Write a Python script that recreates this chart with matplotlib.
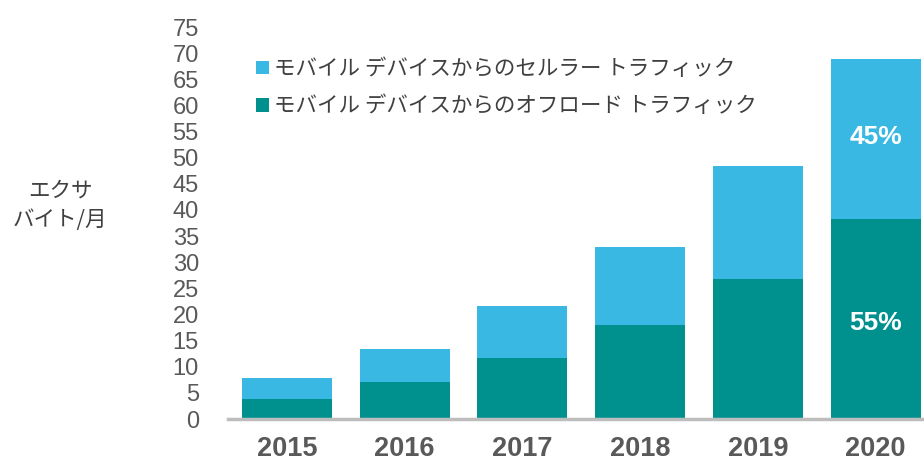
import matplotlib
matplotlib.use("Agg")
import matplotlib.pyplot as plt
import numpy as np

years = ["2015", "2016", "2017", "2018", "2019", "2020"]
offload = [3.9, 7.0, 11.7, 17.9, 26.8, 38.3]
cellular = [3.9, 6.3, 9.9, 15.0, 21.7, 30.6]
share_labels = {"cellular": "45%", "offload": "55%"}
yticks = list(range(0, 80, 5))
label_cell = "モバイル デバイスからのセルラー トラフィック"
label_off = "モバイル デバイスからのオフロード トラフィック"
ylabel = "エクサ\nバイト/月"

c_light = "#38b8e2"
c_dark = "#00918f"
gray_txt = "#595959"

plt.rcParams['font.family'] = ['Liberation Sans', 'Noto Sans CJK JP', 'DejaVu Sans']

fig = plt.figure(figsize=(9.24, 4.62), dpi=100)
ax = fig.add_axes([228/924, 43/462, (934.4-228)/924, (435-43)/462])

x = np.arange(len(years))
w = 0.764
b_off = ax.bar(x, offload, width=w, color=c_dark, zorder=2)
b_cell = ax.bar(x, cellular, width=w, bottom=offload, color=c_light, zorder=2)

ax.set_xlim(-0.5, 5.5)
ax.set_ylim(0, 75)
ax.set_yticks(yticks)
ax.set_yticklabels([str(t) for t in yticks], fontsize=17, color=gray_txt)
ax.set_xticks(x)
ax.set_xticklabels(years, fontsize=19.5, fontweight='bold', color=gray_txt)
ax.tick_params(axis='y', length=0, pad=21)
ax.tick_params(axis='x', length=0, pad=12)
for s in ['top', 'right', 'left']:
    ax.spines[s].set_visible(False)
ax.spines['bottom'].set_color('#bdbdbd')
ax.spines['bottom'].set_linewidth(2.5)
ax.spines['bottom'].set_zorder(3)

# percentage labels on last bar
i = len(years) - 1
ax.text(x[i], offload[i] + cellular[i] / 2 + 0.4, share_labels["cellular"], ha='center', va='center',
        color='white', fontsize=19, fontweight='bold', zorder=4)
ax.text(x[i], offload[i] / 2 - 0.8, share_labels["offload"], ha='center', va='center',
        color='white', fontsize=19, fontweight='bold', zorder=4)

leg = ax.legend([b_cell, b_off], [label_cell, label_off], loc='upper left',
                bbox_to_anchor=(256/924, 1 - 58/462), bbox_transform=fig.transFigure,
                frameon=False, fontsize=15.5, handlelength=0.6, handleheight=0.6,
                handletextpad=0.25, labelspacing=0.72, borderaxespad=0, borderpad=0)
for t in leg.get_texts():
    t.set_color('#404040')
    t.set_family(['Noto Sans CJK JP', 'DejaVu Sans'])

fig.text(60/924, 1 - 205/462, ylabel, ha='center', va='center', fontsize=15.5,
         color='#404040', family=['Noto Sans CJK JP', 'DejaVu Sans'], linespacing=1.45)

fig.savefig("out.png", dpi=100)
